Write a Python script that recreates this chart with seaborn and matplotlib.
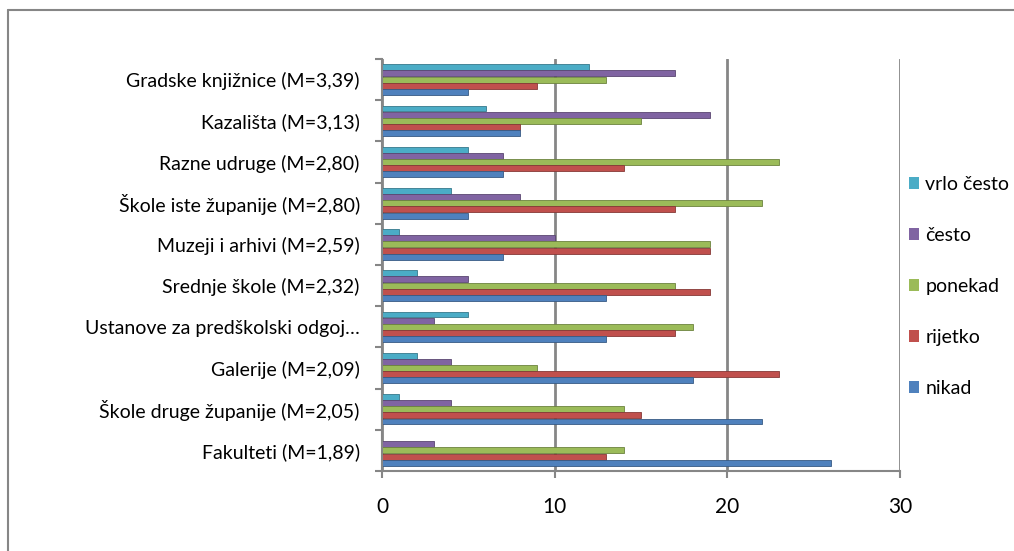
"""Ucestalost suradnje s ustanovama - grupirani horizontalni stupci."""

import matplotlib

matplotlib.use("Agg")

import matplotlib.pyplot as plt
import numpy as np
import pandas as pd
import seaborn as sns
from matplotlib.colors import to_rgb
from matplotlib.lines import Line2D

ustanove = [
    "Gradske knjižnice (M=3,39)",
    "Kazališta (M=3,13)",
    "Razne udruge (M=2,80)",
    "Škole iste županije (M=2,80)",
    "Muzeji i arhivi (M=2,59)",
    "Srednje škole (M=2,32)",
    "Ustanove za predškolski odgoj…",
    "Galerije (M=2,09)",
    "Škole druge županije (M=2,05)",
    "Fakulteti (M=1,89)",
]
nikad = [5, 8, 7, 5, 7, 13, 13, 18, 22, 26]
rijetko = [9, 8, 14, 17, 19, 19, 17, 23, 15, 13]
ponekad = [13, 15, 23, 22, 19, 17, 18, 9, 14, 14]
cesto = [17, 19, 7, 8, 10, 5, 3, 4, 4, 3]
vrlo_cesto = [12, 6, 5, 4, 1, 2, 5, 2, 1, 0]

odgovori = ["vrlo često", "često", "ponekad", "rijetko", "nikad"]
boje = ["#4BACC6", "#8064A2", "#9BBB59", "#C0504D", "#4F81BD"]
x_ticks = [0, 10, 20, 30]

serije = dict(zip(odgovori, [vrlo_cesto, cesto, ponekad, rijetko, nikad]))
df = pd.DataFrame(
    [
        {"ustanova": u, "odgovor": o, "broj": vrijednosti[i]}
        for o, vrijednosti in serije.items()
        for i, u in enumerate(ustanove)
    ]
)

sns.set_style("white")
plt.rcParams["font.family"] = ["Lato", "DejaVu Sans"]
plt.rcParams["text.color"] = "black"
plt.rcParams["xtick.labelcolor"] = "black"
plt.rcParams["ytick.labelcolor"] = "black"
siva = "#868686"

fig = plt.figure(figsize=(10.14, 5.51), dpi=100)
ax = fig.add_axes([0.3767, 0.1452, 0.5108, 0.7477])

sns.barplot(
    data=df,
    y="ustanova",
    x="broj",
    hue="odgovor",
    order=ustanove,
    hue_order=odgovori,
    palette=boje,
    saturation=1,
    width=0.75,
    gap=0.05,
    linewidth=0,
    ax=ax,
)

# tamniji rub stupaca
for kont, boja in zip(ax.containers, boje):
    tamna = tuple(c * 0.7 for c in to_rgb(boja))
    for p in kont:
        p.set_edgecolor(tamna)
        p.set_linewidth(0.6)

ax.set_xlim(0, 30)
ax.set_xticks(x_ticks)
ax.grid(axis="x", color=siva, linewidth=2)
ax.set_axisbelow(True)
ax.set_xlabel("")
ax.set_ylabel("")

for side in ("top", "right"):
    ax.spines[side].set_visible(False)
for side in ("left", "bottom"):
    ax.spines[side].set_color(siva)
    ax.spines[side].set_linewidth(1.5)

ax.set_yticks(np.arange(-0.5, len(ustanove), 1), minor=True)
ax.tick_params(axis="y", which="major", length=0, pad=16, labelsize=14)
ax.tick_params(axis="y", which="minor", length=5, width=1.5, color=siva, left=True)
ax.tick_params(axis="x", length=5, width=1.5, color=siva, bottom=True, pad=13.5, labelsize=15)

handles, labels = ax.get_legend_handles_labels()
ax.legend(
    handles,
    labels,
    loc="upper left",
    bbox_to_anchor=(901 / 1014, 1 - 168 / 551),
    bbox_transform=fig.transFigure,
    frameon=False,
    fontsize=14,
    handlelength=0.55,
    handleheight=0.55,
    handletextpad=0.3,
    labelspacing=1.75,
    borderaxespad=0,
)

# okvir grafikona (vidljivi samo gornji i lijevi rub)
fig.add_artist(Line2D([8 / 1014, 1.0], [1 - 10 / 551, 1 - 10 / 551], color=siva, linewidth=1.5))
fig.add_artist(Line2D([8 / 1014, 8 / 1014], [0.0, 1 - 10 / 551], color=siva, linewidth=1.5))

fig.savefig("out.png", dpi=100)
plt.close(fig)
